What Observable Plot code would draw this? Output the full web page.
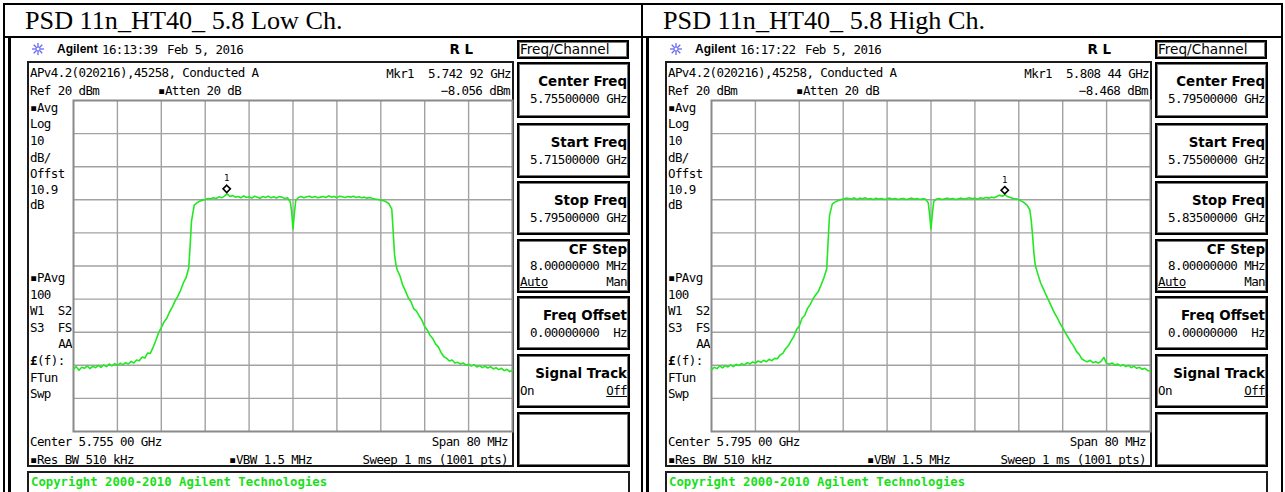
<!DOCTYPE html>
<html>
<head>
<meta charset="utf-8">
<script src="https://cdn.jsdelivr.net/npm/d3@7"></script>
<script src="https://cdn.jsdelivr.net/npm/@observablehq/plot@0.6"></script>
<style>
  html, body { margin: 0; padding: 0; background: #fff; }
  #page { position: relative; width: 1285px; height: 492px; overflow: hidden; background: #fff; }
  .abs { position: absolute; white-space: pre; }
  .line { position: absolute; background: #000; }
  .box { position: absolute; box-sizing: border-box; }
  .title { font-family: "Liberation Serif", "Times New Roman", serif; font-size: 26.2px; line-height: 30px; color: #000; }
  .mono { font-family: "DejaVu Sans Mono", monospace; font-size: 12.5px; letter-spacing: -0.6px; line-height: 15px; color: #000; }
  .key { font-family: "DejaVu Sans", sans-serif; font-weight: bold; font-size: 13.4px; line-height: 15px; color: #000; }
  .brand { font-family: "Liberation Sans", Arial, sans-serif; font-weight: bold; font-size: 12px; line-height: 15px; color: #000; }
  .menu { font-family: "DejaVu Sans", sans-serif; font-size: 13.6px; line-height: 15px; color: #000; }
  .copy { font-family: "DejaVu Sans Mono", monospace; font-weight: bold; font-size: 12.3px; line-height: 15px; color: #17e017; }
  .u { text-decoration: underline; }
</style>
</head>
<body>
<div id="page"></div>
<script>
// ---- instrument settings for the two sweeps (low / high channel) ----
const panelTitles = ["PSD 11n_HT40_ 5.8 Low Ch.", "PSD 11n_HT40_ 5.8 High Ch."];
const timeStamps = ["16:13:39", "16:17:22"];
const sweepDate = "Feb 5, 2016";
const centerGHz = [5.755, 5.795];
const startGHz = [5.715, 5.755];
const stopGHz = [5.795, 5.835];
const centerText = ["5.755 00 GHz", "5.795 00 GHz"];
const centerKeyText = ["5.75500000 GHz", "5.79500000 GHz"];
const startKeyText = ["5.71500000 GHz", "5.75500000 GHz"];
const stopKeyText = ["5.79500000 GHz", "5.83500000 GHz"];
const markerGHz = [5.74292, 5.80844];
const markerDbm = [-8.056, -8.468];
const markerFreqText = ["5.742 92 GHz", "5.808 44 GHz"];
const markerLevelText = ["\u22128.056 dBm", "\u22128.468 dBm"];
const refLevelDbm = 20;
const dbPerDiv = 10;
const divisions = 10;

// ---- trace samples: offset from centre frequency (MHz) and level (dBm) ----
const offsetsMHz = [
  -40, -39.5, -39, -38.5, -38, -37.5, -37, -36.5, -36, -35.5,
  -35, -34.5, -34, -33.5, -33, -32.5, -32, -31.5, -31, -30.5,
  -30, -29.5, -29, -28.5, -28, -27.5, -27, -26.5, -26, -25.5,
  -25, -24.5, -24, -23.5, -23, -22.5, -22, -21.5, -21, -20.5,
  -20, -19.5, -19, -18.75, -18.5, -18, -17.5, -17, -16.5, -16, -15.5,
  -15, -14.5, -14, -13.5, -13, -12.5, -12, -11.5, -11, -10.5,
  -10, -9.5, -9, -8.5, -8, -7.5, -7, -6.5, -6, -5.5,
  -5, -4.5, -4, -3.5, -3, -2.5, -2, -1.5, -1, -0.5, -0.25,
  0, 0.25, 0.5, 1, 1.5, 2, 2.5, 3, 3.5, 4, 4.5, 5,
  5.5, 6, 6.5, 7, 7.5, 8, 8.5, 9, 9.5, 10,
  10.5, 11, 11.5, 12, 12.5, 13, 13.5, 14, 14.5, 15,
  15.5, 16, 16.5, 17, 17.5, 18, 18.25, 18.5, 18.75, 19, 19.5, 20,
  20.5, 21, 21.5, 22, 22.5, 23, 23.5, 24, 24.5, 25,
  25.5, 26, 26.5, 27, 27.5, 28, 28.5, 29, 29.5, 30,
  30.5, 31, 31.5, 32, 32.5, 33, 33.5, 34, 34.5, 35,
  35.5, 36, 36.5, 37, 37.5, 38, 38.5, 39, 39.5, 40
];
const lowChannelDbm = [
  -61.2, -60.4, -61.5, -60.6, -60.9, -60.2, -61.0, -60.3, -60.7, -60.0,
  -60.6, -59.9, -60.4, -59.6, -60.2, -59.5, -60.0, -59.4, -59.8, -59.2,
  -59.6, -58.8, -59.3, -58.4, -58.6, -57.5, -57.8, -56.3, -56.4, -54.6,
  -52.5, -50.2, -48.6, -46.9, -45.8, -43.9, -42.4, -40.6, -39.2, -37.4,
  -35.2, -33.6, -30.6, -24.0, -16.5, -11.6, -10.9, -10.4, -10.1, -9.9, -9.6,
  -9.7, -9.4, -9.6, -9.1, -9.4, -8.9, -8.2, -9.0, -8.7, -9.2,
  -9.0, -9.4, -8.8, -9.3, -9.1, -9.5, -8.9, -9.2, -9.6, -9.0,
  -9.3, -8.9, -9.4, -9.1, -9.5, -9.0, -9.2, -9.6, -9.4, -10.6, -13.5,
  -18.8, -14.0, -10.2, -9.3, -9.0, -9.4, -9.1, -8.9, -9.3, -9.0, -9.4, -9.2,
  -9.0, -9.3, -8.8, -9.2, -9.0, -9.4, -8.9, -9.1, -9.3, -9.0,
  -9.2, -8.9, -9.3, -9.1, -9.4, -9.2, -9.5, -9.3, -9.6, -9.8,
  -9.9, -10.1, -10.3, -10.6, -11.2, -12.8, -19.5, -26.5, -29.5, -31.2, -33.0, -35.8,
  -37.6, -39.6, -40.8, -42.9, -43.6, -45.1, -46.4, -48.3, -49.4, -51.0,
  -52.0, -53.6, -54.5, -56.2, -57.4, -57.9, -58.7, -58.4, -59.3, -59.1,
  -59.6, -59.3, -59.9, -59.7, -60.2, -59.8, -60.5, -60.1, -60.7, -60.3,
  -60.8, -60.4, -61.1, -60.7, -61.3, -60.9, -61.6, -61.2, -61.9, -61.5
];
const highChannelDbm = [
  -61.4, -60.6, -61.0, -60.2, -60.8, -60.1, -60.5, -59.9, -60.4, -59.7,
  -60.1, -59.5, -59.9, -59.2, -59.6, -59.0, -59.3, -58.7, -59.1, -58.5,
  -58.9, -58.2, -58.6, -57.9, -58.0, -56.9, -56.4, -55.0, -54.1, -52.6,
  -51.3, -49.2, -48.1, -45.8, -44.9, -42.8, -41.6, -39.9, -38.7, -37.6,
  -35.6, -33.5, -30.8, -22.5, -14.8, -11.3, -10.7, -10.3, -10.0, -9.8, -9.5,
  -9.6, -9.8, -9.4, -9.9, -9.5, -9.7, -9.4, -9.8, -9.6, -9.9,
  -9.5, -9.8, -9.6, -9.9, -9.7, -9.5, -9.8, -9.6, -9.9, -9.7,
  -9.6, -9.9, -9.7, -9.5, -9.8, -9.6, -9.9, -9.7, -9.8, -10.9, -14.5,
  -18.8, -14.2, -10.5, -9.8, -9.6, -9.9, -9.7, -9.5, -9.8, -9.6, -9.9, -9.7,
  -9.5, -9.8, -9.6, -9.4, -9.7, -9.5, -9.8, -9.4, -9.6, -9.3,
  -9.5, -9.2, -9.4, -9.0, -8.6, -8.9, -8.5, -9.1, -9.3, -9.6,
  -9.7, -10.0, -10.4, -10.9, -11.6, -13.0, -16.0, -20.5, -26.0, -29.8, -32.6, -35.2,
  -37.0, -38.9, -40.6, -42.4, -44.2, -45.6, -47.3, -48.7, -50.2, -51.6,
  -53.0, -54.2, -55.8, -56.7, -58.1, -58.6, -58.9, -58.5, -59.2, -58.9,
  -59.3, -58.8, -57.6, -59.4, -59.7, -59.3, -59.9, -59.6, -60.2, -59.8,
  -60.4, -60.0, -60.7, -60.3, -60.9, -60.6, -61.2, -60.9, -61.6, -61.8
];
const traces = [lowChannelDbm, highChannelDbm];

// ---- page helpers ----
const page = document.getElementById("page");
const put = (html) => page.insertAdjacentHTML("beforeend", html);
function label(x, cy, s, cls, align = "left") {
  const top = cy - 7.3;
  if (align === "right") {
    put(`<div class="abs ${cls}" style="left:${x - 300}px;width:300px;text-align:right;top:${top}px">${s}</div>`);
  } else {
    put(`<div class="abs ${cls}" style="left:${x}px;top:${top}px">${s}</div>`);
  }
}
function rect(x, y, w, h, style) {
  put(`<div class="box" style="left:${x}px;top:${y}px;width:${w}px;height:${h}px;${style}"></div>`);
}
function hline(x, y, w, t = 1) { put(`<div class="line" style="left:${x}px;top:${y}px;width:${w}px;height:${t}px"></div>`); }
function vline(x, y, h, t = 1) { put(`<div class="line" style="left:${x}px;top:${y}px;width:${t}px;height:${h}px"></div>`); }

// ---- spectrum display drawn by Plot ----
function spectrum(k) {
  const trace = offsetsMHz.map((o, i) => ({ghz: centerGHz[k] + o / 1000, dbm: traces[k][i]}));
  const marker = [{ghz: markerGHz[k], dbm: markerDbm[k]}];
  const bottom = refLevelDbm - dbPerDiv * divisions;
  const xGrid = d3.range(divisions + 1).map(i => startGHz[k] + i * (stopGHz[k] - startGHz[k]) / divisions);
  const yGrid = d3.range(divisions + 1).map(i => bottom + i * dbPerDiv);
  const gridColor = "#a2a2a2";
  return Plot.plot({
    width: 441,
    height: 333,
    margin: 1,
    style: {background: "transparent", overflow: "visible"},
    x: {domain: [startGHz[k], stopGHz[k]], axis: null},
    y: {domain: [bottom, refLevelDbm], axis: null},
    marks: [
      Plot.ruleX(xGrid.slice(1, -1), {stroke: gridColor, strokeWidth: 1.4}),
      Plot.ruleY(yGrid.slice(1, -1), {stroke: gridColor, strokeWidth: 1.4}),
      Plot.frame({stroke: "#8a8a8a", strokeWidth: 2}),
      Plot.line(trace, {x: "ghz", y: "dbm", stroke: "#22e822", strokeWidth: 1.6}),
      Plot.dot(marker, {x: "ghz", y: "dbm", symbol: "diamond2", r: 3.3, stroke: "#000", strokeWidth: 1.6, fill: "#fff", dy: -4.5}),
      Plot.text(marker, {x: "ghz", y: "dbm", text: () => "1", dy: -15, fontSize: 9, fontFamily: "DejaVu Sans Mono", fill: "#000"})
    ]
  });
}

// ---- table frame ----
hline(3, 3, 1280, 2);
hline(3, 36, 1280, 1.5);
vline(3, 3, 489, 1.5);
vline(641, 3, 489, 1.5);
vline(1281, 3, 489, 1.5);

const sun = `<svg width="14" height="14" viewBox="-7 -7 14 14"><g stroke="#6a6af2" stroke-width="1.3">
<line x1="-6" y1="0" x2="6" y2="0"/><line x1="0" y1="-6" x2="0" y2="6"/>
<line x1="-4.3" y1="-4.3" x2="4.3" y2="4.3"/><line x1="-4.3" y1="4.3" x2="4.3" y2="-4.3"/></g>
<circle r="2" fill="#fff" stroke="#6a6af2" stroke-width="1"/></svg>`;

for (let k = 0; k < 2; k++) {
  const ox = k * 638;
  const X = (x) => x + ox;

  // cell title
  put(`<div class="abs title" style="left:${X(25)}px;top:6px">${panelTitles[k]}</div>`);

  // screenshot left edge
  vline(X(8), 37, 455, 2.5);

  // header row
  put(`<div class="abs" style="left:${X(31)}px;top:42px">${sun}</div>`);
  label(X(57), 49, "Agilent", "brand");
  label(X(102), 49, timeStamps[k], "mono");
  label(X(167), 49, sweepDate, "mono");
  label(X(473), 49.5, "R L", "key", "right");

  // measurement display frame
  rect(X(27), 61, 487, 406, "border:2px solid #1c1c1c;");

  label(X(30), 72.5, "APv4.2(020216),45258, Conducted A", "mono");
  label(X(30), 90, "Ref 20 dBm", "mono");
  label(X(158), 90, "\u25AAAtten 20 dB", "mono");
  label(X(511), 73, "Mkr1  " + markerFreqText[k], "mono", "right");
  label(X(510), 90, markerLevelText[k], "mono", "right");

  const leftNotes = [
    ["\u25AAAvg", 107], ["Log", 123.6], ["10", 140.5], ["dB/", 157], ["Offst", 173.3], ["10.9", 189.5], ["dB", 204.5],
    ["\u25AAPAvg", 277], ["100", 294], ["W1  S2", 310], ["S3  FS", 327], ["<b>\u00A3</b>(f):", 360], ["FTun", 377], ["Swp", 393.5]
  ];
  for (const [s, cy] of leftNotes) label(X(30), cy, s, "mono");
  label(X(72), 343.5, "AA", "mono", "right");

  label(X(30), 441, "Center " + centerText[k], "mono");
  label(X(508), 441, "Span 80 MHz", "mono", "right");
  label(X(30), 459, "\u25AARes BW 510 kHz", "mono");
  label(X(229), 459, "\u25AAVBW 1.5 MHz", "mono");
  label(X(508), 459, "Sweep 1 ms (1001 pts)", "mono", "right");

  // trace display
  const svg = spectrum(k);
  svg.style.position = "absolute";
  svg.style.left = X(72) + "px";
  svg.style.top = "99px";
  page.append(svg);

  // soft keys
  const keyStyle = "border:2px solid #000;box-shadow:inset 0 0 0 1px #777;";
  rect(X(517), 40, 112, 19, keyStyle);
  label(X(520), 49.5, "Freq/Channel", "menu");
  const keys = [[62, 118], [123, 178], [181, 235], [239, 293], [296, 350], [354, 408], [412, 467]];
  for (const [t, b] of keys) rect(X(517), t, 113, b - t, keyStyle);
  label(X(627), 81, "Center Freq", "key", "right");
  label(X(627), 98, centerKeyText[k], "mono", "right");
  label(X(627), 142, "Start Freq", "key", "right");
  label(X(627), 159, startKeyText[k], "mono", "right");
  label(X(627), 200, "Stop Freq", "key", "right");
  label(X(627), 217, stopKeyText[k], "mono", "right");
  label(X(627), 249, "CF Step", "key", "right");
  label(X(627), 265.5, "8.00000000 MHz", "mono", "right");
  label(X(520), 281.5, "<span class='u'>Auto</span>", "mono");
  label(X(627), 281.5, "Man", "mono", "right");
  label(X(627), 315, "Freq Offset", "key", "right");
  label(X(627), 332, "0.00000000  Hz", "mono", "right");
  label(X(627), 373, "Signal Track", "key", "right");
  label(X(520), 390, "On", "mono");
  label(X(627), 390, "<span class='u'>Off</span>", "mono", "right");

  // status line
  rect(X(27), 471, 603, 26, "border:2px solid #1c1c1c;");
  label(X(31), 482, "Copyright 2000-2010 Agilent Technologies", "copy");
}
</script>
</body>
</html>
